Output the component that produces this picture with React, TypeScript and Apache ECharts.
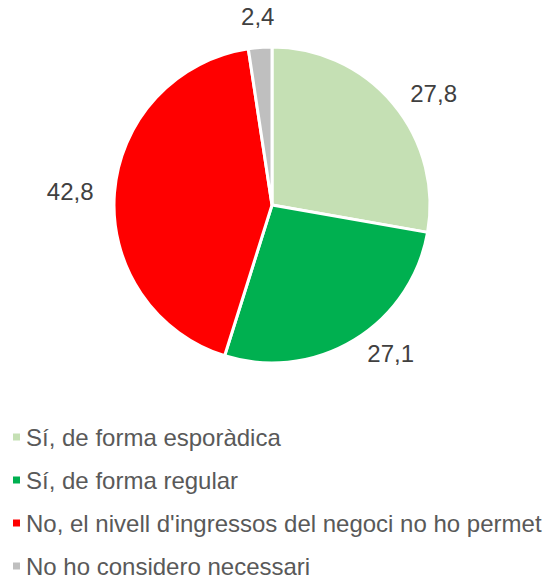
import React, { useEffect, useRef } from "react";
import * as echarts from "echarts";

const categories = [
  "Sí, de forma esporàdica",
  "Sí, de forma regular",
  "No, el nivell d'ingressos del negoci no ho permet",
  "No ho considero necessari",
];
const values = [27.8, 27.1, 42.8, 2.4];
const colors = ["#C5E0B4", "#00B050", "#FF0000", "#BFBFBF"];

const FONT = "Liberation Sans, Arial, sans-serif";
const fmt = (p: any) => String(p.value).replace(".", ",");

export default function App() {
  const ref = useRef<HTMLDivElement>(null);
  useEffect(() => {
    if (!ref.current) return;
    const chart = echarts.init(ref.current, undefined, { renderer: "svg" });
    const small = values.map((v) => v < 5);
    chart.setOption({
      animation: false,
      textStyle: { fontFamily: FONT },
      legend: {
        orient: "vertical",
        left: 6,
        top: 420,
        height: 200,
        icon: "rect",
        itemWidth: 9,
        itemHeight: 9,
        itemGap: 19,
        textStyle: { fontSize: 24, color: "#595959", fontFamily: FONT },
        data: categories,
      },
      series: [
        {
          type: "pie",
          center: [272, 205],
          radius: 158,
          startAngle: 90,
          clockwise: true,
          itemStyle: { borderColor: "#fff", borderWidth: 3 },
          label: {
            show: true,
            position: "outside",
            fontSize: 24,
            color: "#404040",
            fontFamily: FONT,
            formatter: fmt,
          },
          labelLine: { show: false, length: 16, length2: 0 },
          data: categories.map((c, i) => ({
            name: c,
            value: values[i],
            itemStyle: { color: colors[i] },
            label: { show: !small[i] },
          })),
        },
        {
          type: "pie",
          center: [272, 205],
          radius: [172, 200],
          startAngle: 90,
          clockwise: true,
          silent: true,
          itemStyle: { color: "rgba(0,0,0,0)" },
          label: {
            show: true,
            position: "inside",
            fontSize: 24,
            color: "#404040",
            fontFamily: FONT,
            formatter: fmt,
          },
          labelLine: { show: false },
          data: categories.map((c, i) => ({
            name: c,
            value: values[i],
            itemStyle: { color: "rgba(0,0,0,0)" },
            label: { show: small[i] },
          })),
        },
      ],
    });
    return () => chart.dispose();
  }, []);
  return (
    <div
      ref={ref}
      style={{ position: "fixed", left: 0, top: 0, width: 547, height: 578, background: "#fff" }}
    />
  );
}
